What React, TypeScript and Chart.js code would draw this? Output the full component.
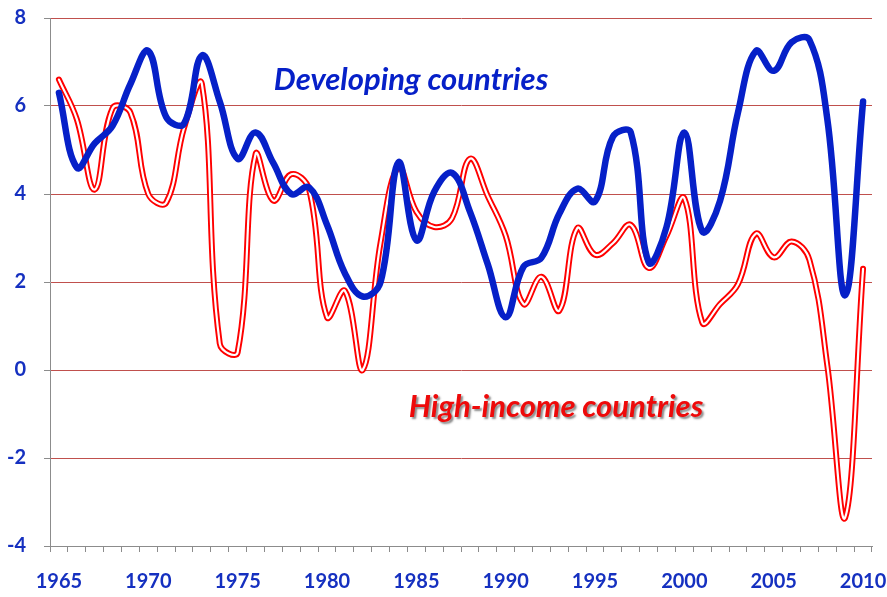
import React, { useEffect, useRef } from "react";
import { Chart, registerables } from "chart.js";

Chart.register(...registerables);

const years = [
  1965, 1966, 1967, 1968, 1969, 1970, 1971, 1972, 1973, 1974,
  1975, 1976, 1977, 1978, 1979, 1980, 1981, 1982, 1983, 1984,
  1985, 1986, 1987, 1988, 1989, 1990, 1991, 1992, 1993, 1994,
  1995, 1996, 1997, 1998, 1999, 2000, 2001, 2002, 2003, 2004,
  2005, 2006, 2007, 2008, 2009, 2010,
];

const developing = [
  6.3, 4.6, 5.15, 5.55, 6.5, 7.25, 5.75, 5.6, 7.15, 6.1,
  4.8, 5.4, 4.7, 4.0, 4.15, 3.3, 2.2, 1.67, 2.0, 4.72,
  2.95, 4.05, 4.48, 3.6, 2.4, 1.2, 2.35, 2.55, 3.55, 4.12,
  3.83, 5.3, 5.4, 2.45, 3.25, 5.4, 3.15, 3.85, 5.85, 7.25,
  6.8, 7.45, 7.5, 5.7, 1.7, 6.1,
];

const highIncome = [
  6.6, 5.7, 4.1, 5.95, 5.85, 4.0, 3.8, 5.5, 6.5, 0.6,
  0.4, 4.9, 3.85, 4.45, 4.1, 1.2, 1.8, 0.0, 2.9, 4.6,
  3.6, 3.25, 3.45, 4.8, 3.95, 3.05, 1.5, 2.12, 1.35, 3.22,
  2.62, 2.88, 3.3, 2.32, 3.05, 3.9, 1.08, 1.5, 1.95, 3.1,
  2.56, 2.92, 2.5, 0.1, -3.35, 2.3,
];

const yMin = -4;
const yMax = 8;
const yStep = 2;

const labelDeveloping = "Developing countries";
const labelHighIncome = "High-income countries";

const BLUE = "#0620c8";
const RED = "#ff0000";
const GRID_RED = "#c0504d";
const AXIS_GREY = "#8c8c8c";
const TICK_BLUE = "#1530c0";

const textPlugin = {
  id: "seriesLabels",
  afterDatasetsDraw(chart: any) {
    const ctx = chart.ctx;
    ctx.save();
    ctx.textAlign = "center";
    ctx.textBaseline = "alphabetic";
    ctx.font = "italic bold 31px Lato";
    ctx.fillStyle = BLUE;
    ctx.fillText(labelDeveloping, 411, 90, 276);

    ctx.shadowColor = "rgba(90,90,90,0.7)";
    ctx.shadowOffsetX = 2;
    ctx.shadowOffsetY = 2;
    ctx.shadowBlur = 2;
    ctx.fillStyle = "#ee0a0a";
    ctx.fillText(labelHighIncome, 556, 417, 296);
    ctx.restore();
  },
};

export default function App() {
  const ref = useRef<HTMLCanvasElement | null>(null);

  useEffect(() => {
    if (!ref.current) return;
    const chart = new Chart(ref.current, {
      type: "line",
      data: {
        labels: years.map(String),
        datasets: [
          {
            label: labelDeveloping,
            data: developing,
            borderColor: BLUE,
            borderWidth: 6.5,
            pointRadius: 0,
            tension: 0.4,
            borderCapStyle: "round",
            borderJoinStyle: "round",
            fill: false,
            order: 0,
          },
          {
            label: labelHighIncome + " inner",
            data: highIncome,
            borderColor: "#ffffff",
            borderWidth: 2.2,
            pointRadius: 0,
            tension: 0.4,
            borderCapStyle: "round",
            borderJoinStyle: "round",
            fill: false,
            order: 1,
          },
          {
            label: labelHighIncome,
            data: highIncome,
            borderColor: RED,
            borderWidth: 6,
            pointRadius: 0,
            tension: 0.4,
            borderCapStyle: "round",
            borderJoinStyle: "round",
            fill: false,
            order: 2,
          },
        ],
      },
      options: {
        responsive: false,
        maintainAspectRatio: false,
        animation: false,
        layout: { padding: { top: 18, right: 15, left: 0, bottom: 0 } },
        plugins: {
          legend: { display: false },
          tooltip: { enabled: false },
        },
        scales: {
          x: {
            type: "category",
            offset: true,
            grid: {
              offset: true,
              drawOnChartArea: false,
              drawTicks: true,
              tickLength: 6,
              color: AXIS_GREY,
            },
            border: { color: AXIS_GREY, width: 1 },
            ticks: {
              autoSkip: false,
              maxRotation: 0,
              padding: 18,
              color: TICK_BLUE,
              font: { family: "Lato", weight: "bold", size: 20 },
              callback: (_v: any, i: number) =>
                years[i] % 5 === 0 ? String(years[i]) : "",
            },
            afterFit: (s: any) => {
              s.height = 51;
              s.paddingLeft = 0;
              s.paddingRight = 0;
            },
          },
          y: {
            min: yMin,
            max: yMax,
            ticks: {
              stepSize: yStep,
              padding: 18,
              color: TICK_BLUE,
              font: { family: "Lato", weight: "bold", size: 20 },
            },
            grid: {
              color: (c: any) =>
                c.tick && c.tick.value === yMin ? "rgba(0,0,0,0)" : GRID_RED,
              tickColor: AXIS_GREY,
              tickLength: 6,
              lineWidth: 1,
            },
            border: { color: AXIS_GREY, width: 1 },
            afterFit: (s: any) => {
              s.width = 50;
              s.paddingTop = 0;
              s.paddingBottom = 0;
            },
          },
        },
      },
      plugins: [textPlugin],
    });
    return () => chart.destroy();
  }, []);

  return (
    <div
      style={{
        position: "fixed",
        left: 0,
        top: 0,
        width: 887,
        height: 597,
        background: "#ffffff",
      }}
    >
      <canvas ref={ref} width={887} height={597} style={{ width: 887, height: 597 }} />
    </div>
  );
}
